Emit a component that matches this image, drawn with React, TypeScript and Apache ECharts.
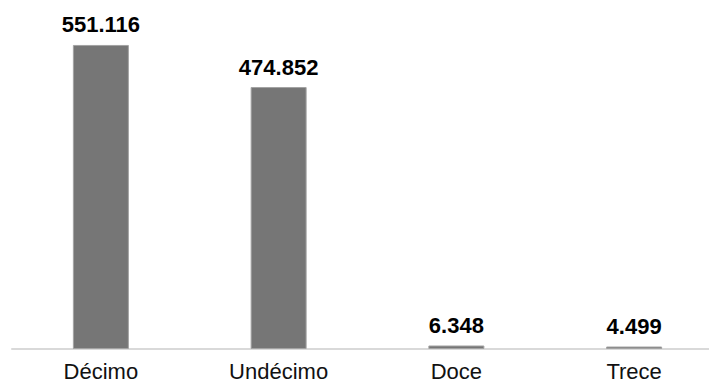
import React, { useEffect, useRef } from "react";
import * as echarts from "echarts";

const categories = ["Décimo", "Undécimo", "Doce", "Trece"];
const values = [551.116, 474.852, 6.348, 4.499];

const fmt = (v: number) => v.toFixed(3);

export default function App() {
  const ref = useRef<HTMLDivElement>(null);
  useEffect(() => {
    document.body.style.margin = "0";
    const chart = echarts.init(ref.current!, null, { renderer: "svg" });
    chart.setOption({
      animation: false,
      backgroundColor: "#ffffff",
      grid: { left: 12, right: 0, top: 18, bottom: 39 },
      xAxis: {
        type: "category",
        data: categories,
        axisLine: { show: true, lineStyle: { color: "#d9d9d9", width: 2 } },
        axisTick: { show: false },
        axisLabel: {
          color: "#111111",
          fontFamily: "Liberation Sans, Arial, sans-serif",
          fontSize: 22,
          margin: 11,
        },
      },
      yAxis: {
        type: "value",
        min: 0,
        max: 600,
        show: false,
        splitLine: { show: false },
      },
      series: [
        {
          type: "bar",
          data: values,
          barWidth: 56,
          itemStyle: {
            color: "#767676",
            borderColor: "#a3a3a3",
            borderWidth: 1,
          },
          label: {
            show: true,
            position: "top",
            distance: 9,
            formatter: (p: any) => fmt(p.value),
            color: "#000000",
            fontFamily: "Liberation Sans, Arial, sans-serif",
            fontSize: 22,
            fontWeight: "bold",
          },
        },
      ],
    });
    return () => chart.dispose();
  }, []);
  return (
    <div style={{ width: 709, height: 388, overflow: "hidden" }}>
      <div ref={ref} style={{ width: 723, height: 388 }} />
    </div>
  );
}
